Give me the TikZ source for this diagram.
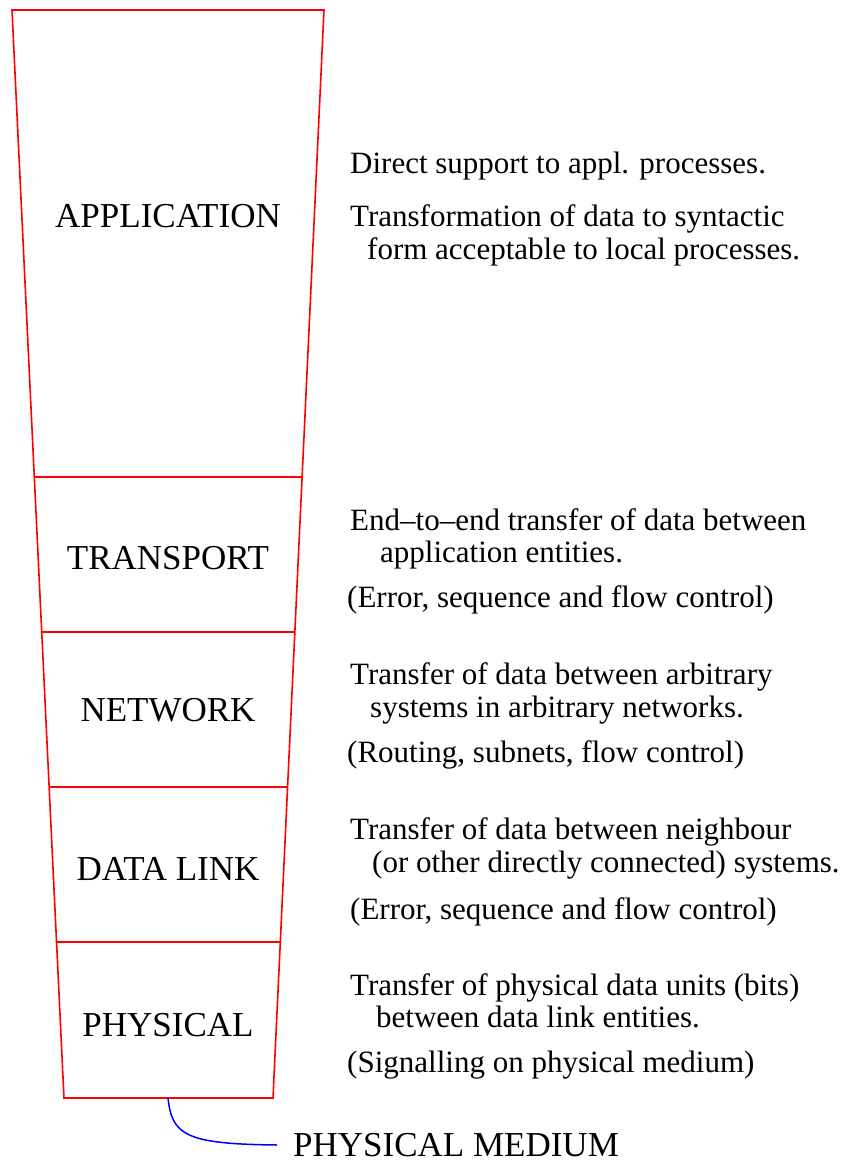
\documentclass[tikz,border=0pt]{standalone}
\usepackage{fontspec}
\setmainfont{Liberation Serif}
\usetikzlibrary{calc}

\begin{document}
\begin{tikzpicture}[
  x=1pt, y=-1pt,
  edge/.style={draw=red, line width=1.6pt},
  layer/.style={inner sep=0pt, font=\fontsize{35}{42}\selectfont},
  desc/.style={anchor=base west, inner sep=0pt, font=\fontsize{31}{36}\selectfont},
  link/.style={draw=blue, line width=1.5pt}
]
\useasboundingbox (0,0) rectangle (845,1166);

% Stack outline
\coordinate (tl) at (12,10);
\coordinate (tr) at (324,10);
\coordinate (bl) at (64,1098);
\coordinate (br) at (273,1098);
\draw[edge] (tl) -- (tr) -- (br) -- (bl) -- cycle;

% Layer boundaries
\foreach \f in {0.4292, 0.5717, 0.7142, 0.8566}
  \draw[edge] ($(tl)!\f!(bl)$) -- ($(tr)!\f!(br)$);

% Layer names
\node[layer] (appl) at (168,216) {APPLICATION};
\node[layer] (trans) at (168,558) {TRANSPORT};
\node[layer] (net) at (168,710) {NETWORK};
\node[layer] (dlink) at (168,869) {DATA LINK};
\node[layer] (phys) at (168,1025) {PHYSICAL};

% Descriptions
\node[desc] (applA) at (350,174) {Direct support to appl. processes.};
\node[desc] (applB) at (350,227) {Transformation of data to syntactic};
\node[desc] (applC) at (367,259) {form acceptable to local processes.};

\node[desc] (transA) at (350,530) {End--to--end transfer of data between};
\node[desc] (transB) at (380,562) {application entities.};
\node[desc] (transC) at (347,607) {(Error, sequence and flow control)};

\node[desc] (netA) at (350,684) {Transfer of data between arbitrary};
\node[desc] (netB) at (370,717) {systems in arbitrary networks.};
\node[desc] (netC) at (347,762) {(Routing, subnets, flow control)};

\node[desc] (dlinkA) at (350,839) {Transfer of data between neighbour};
\node[desc] (dlinkB) at (372,872) {(or other directly connected) systems.};
\node[desc] (dlinkC) at (350,919) {(Error, sequence and flow control)};

\node[desc] (physA) at (350,995) {Transfer of physical data units (bits)};
\node[desc] (physB) at (376,1027) {between data link entities.};
\node[desc] (physC) at (347,1072) {(Signalling on physical medium)};

% Physical medium
\node[layer, anchor=west] (medium) at (293,1145) {PHYSICAL MEDIUM};
\coordinate (foot) at ($(bl)!0.5!(br)$);
\draw[link] ([xshift=-0.5pt]foot) .. controls (172,1135) and (185,1144) .. ([xshift=-16pt]medium.west);

\end{tikzpicture}
\end{document}
